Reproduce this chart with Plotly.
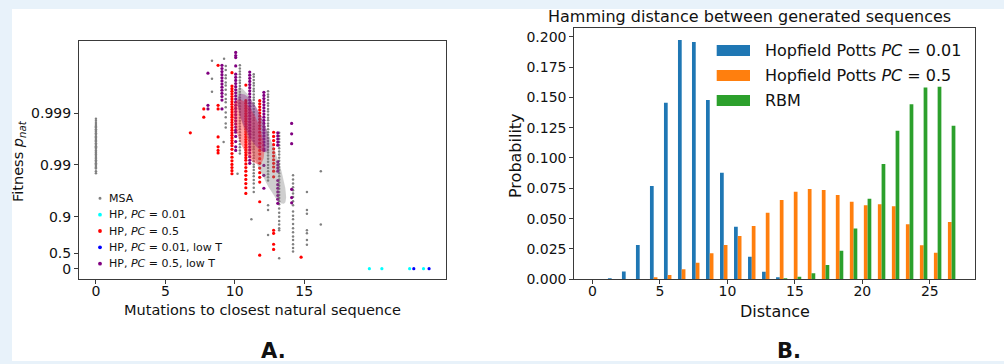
import numpy as np
import plotly.graph_objects as go

W, H = 1004, 364
FONT = "DejaVu Sans"

# ---------------------------------------------------------------------------
# Panel A: fitness vs. mutations to the closest natural sequence.
# Fitness is plotted on a "nines" scale, -log10(1 - p_nat):
# 0 -> 0, 0.5 -> 0.301, 0.9 -> 1, 0.99 -> 2, 0.999 -> 3.
# Each series is stored column by column: one x value, a list of y values.
# ---------------------------------------------------------------------------
msa_x = [0.0]
msa_y = [[2.89, 2.85, 2.81, 2.77, 2.74, 2.72, 2.69, 2.66, 2.64, 2.61, 2.58, 2.55,
          2.53, 2.50, 2.47, 2.45, 2.42, 2.39, 2.36, 2.34, 2.31, 2.28, 2.25, 2.23,
          2.20, 2.17, 2.14, 2.12, 2.09, 2.06, 2.03, 2.01, 1.98, 1.95, 1.93, 1.88, 1.84]]

grey_x = [8.36, 9.23, 9.35, 9.2, 10.37, 10.2, 11.37, 11.2, 12.4, 13.2, 14.2, 15.2, 16.2]
grey_y = [
    [4.01, 3.66, 3.41],
    [4.05],
    [3.91, 3.83, 3.73, 3.67, 3.59, 3.53, 3.45, 3.36, 3.27, 3.21, 3.11, 3.01, 2.92, 2.80, 2.72],
    [2.44],
    [3.92, 3.86, 3.80, 3.75, 3.69, 3.63, 3.58, 3.52, 3.47, 3.41, 3.36, 3.30, 3.25, 3.19,
     3.13, 3.08, 3.02, 2.97, 2.91, 2.85, 2.80, 2.74, 2.69, 2.63, 2.57, 2.52, 2.46, 2.40,
     2.34, 2.28, 2.22],
    [1.83],
    [3.75, 3.70, 3.64, 3.58, 3.53, 3.47, 3.42, 3.36, 3.30, 3.25, 3.19, 3.14, 3.08, 3.02,
     2.97, 2.91, 2.86, 2.80, 2.74, 2.69, 2.63, 2.58, 2.52, 2.46, 2.41, 2.35, 2.30, 2.24,
     2.18, 2.13, 2.07, 2.01, 1.96, 1.90, 1.84, 1.78, 1.71, 1.64, 1.56, 1.48],
    [0.95],
    [3.42, 3.36, 3.31, 3.25, 3.19, 3.14, 3.08, 3.03, 2.97, 2.91, 2.86, 2.80, 2.75, 2.69,
     2.63, 2.58, 2.52, 2.46, 2.41, 2.35, 2.29, 2.24, 2.18, 2.12, 2.06, 2.00, 1.94, 1.88,
     1.82, 1.76, 1.70, 1.22, 1.13, 0.65],
    [2.62, 2.56, 2.50, 2.44, 2.38, 2.32, 2.26, 2.20, 2.14, 2.08, 2.02, 1.96, 1.90, 1.84,
     1.78, 1.72, 1.66, 1.60, 1.54, 1.48, 1.42, 1.36, 1.30, 1.24, 1.16, 1.08, 1.00, 0.92,
     0.85, 0.78, 0.74, 0.20],
    [1.80, 1.72, 1.64, 1.57, 1.51, 1.45, 1.38, 1.30, 1.22, 1.10, 1.02, 0.95, 0.86, 0.78,
     0.70, 0.62, 0.55, 0.47, 0.40, 0.33],
    [1.48, 1.13, 1.06, 0.74, 0.68, 0.55, 0.46],
    [1.88, 0.85],
]

hp001_x = [19.7, 20.6, 22.6, 23.6]
hp001_y = [[0.0], [0.0], [0.0], [0.0]]

hp05_x = [6.8, 7.77, 8.8, 9.8, 10.8, 11.8, 12.8, 14.78]
hp05_y = [
    [2.62],
    [3.08, 2.92],
    [3.92, 3.15, 3.08, 2.54, 2.35, 2.28, 2.23],
    [3.78, 3.52, 3.47, 3.42, 3.37, 3.32, 3.27, 3.22, 3.17, 3.12, 3.07, 3.02, 2.97, 2.92,
     2.87, 2.82, 2.77, 2.72, 2.67, 2.62, 2.57, 2.52, 2.47, 2.42, 2.37, 2.30, 2.22, 2.15,
     2.08, 2.01, 1.95, 1.89, 1.83],
    [3.54, 3.24, 3.19, 3.14, 3.09, 3.04, 2.99, 2.94, 2.89, 2.84, 2.79, 2.74, 2.69, 2.64,
     2.59, 2.54, 2.49, 2.44, 2.39, 2.34, 2.29, 2.24, 2.19, 2.14, 2.09, 2.02, 1.95, 1.88,
     1.80, 1.72, 1.64, 1.56, 1.45],
    [3.24, 3.18, 3.12, 3.06, 3.00, 2.94, 2.88, 2.82, 2.76, 2.70, 2.63, 2.56, 2.49, 2.42,
     2.35, 2.28, 2.21, 2.12, 2.03, 1.94, 1.85, 1.76, 1.67, 1.29, 0.26],
    [2.63, 2.55, 2.47, 2.39, 2.31, 2.24, 2.17, 2.10, 2.03, 1.96, 1.88, 1.77, 0.74, 0.68,
     0.47, 0.37],
    [0.22],
]

hp001_lowT_x = [22.9, 24.0]
hp001_lowT_y = [[0.0], [0.0]]

hp05_lowT_x = [8.07, 9.08, 10.07, 11.08, 12.1, 13.1, 14.1]
hp05_lowT_y = [
    [3.77, 3.15, 3.08],
    [3.92, 3.86, 3.80, 3.74, 3.68, 3.62, 3.56, 3.50, 3.44, 3.38, 3.32, 3.25, 3.08],
    [4.17, 4.11, 4.07, 3.91, 3.75, 3.69, 3.63, 3.57, 3.51, 3.45, 3.39, 3.33, 3.27, 3.21,
     3.15, 3.09, 3.03, 2.97, 2.91, 2.85, 2.79, 2.73, 2.67, 2.63, 2.55, 2.45, 2.35, 2.28],
    [3.79, 3.73, 3.67, 3.61, 3.55, 3.49, 3.43, 3.37, 3.31, 3.25, 3.19, 3.13, 3.07, 3.01,
     2.95, 2.89, 2.83, 2.77, 2.71, 2.65, 2.59, 2.53, 2.47, 2.41, 2.35, 2.29, 2.23, 2.16,
     2.09, 2.03],
    [3.40, 3.34, 3.28, 3.22, 3.16, 3.10, 3.04, 2.98, 2.92, 2.86, 2.80, 2.74, 2.68, 2.62,
     2.56, 2.50, 2.44, 2.38, 2.31, 2.28, 1.99, 1.80, 1.55],
    [2.62, 2.56, 2.50, 2.44, 2.38, 2.06, 2.00, 1.94, 1.88, 1.70, 1.62, 1.55, 1.48, 1.41,
     1.34, 1.26],
    [2.80, 2.60, 2.41, 1.53, 1.37, 1.27],
]

# Summary ellipses (centre, major half-axis vector, minor half-axis vector),
# in data units: grey samples, HP PC=0.5, HP PC=0.5 low T.
ell_cx = [11.92, 11.01, 11.34]
ell_cy = [2.37, 2.64, 2.81]
ell_major_dx = [1.62, 0.79, 0.94]
ell_major_dy = [-1.12, -0.62, -0.56]
ell_minor_dx = [0.74, 0.80, 0.66]
ell_minor_dy = [0.076, 0.075, 0.079]
ell_colors = ["rgba(128,128,128,0.38)", "rgba(255,40,40,0.42)", "rgba(128,0,128,0.33)"]

fitness_tickvals = [0.0, float(np.log10(2.0)), 1.0, 2.0, 3.0]
fitness_ticktext = ["0", "0.5", "0.9", "0.99", "0.999"]
mutation_ticks = [0, 5, 10, 15]

legend_a_labels = ["MSA", "HP, <i>PC</i> = 0.01", "HP, <i>PC</i> = 0.5",
                   "HP, <i>PC</i> = 0.01, low T", "HP, <i>PC</i> = 0.5, low T"]

# ---------------------------------------------------------------------------
# Panel B: Hamming distance histogram (26 bins over 0..27)
# ---------------------------------------------------------------------------
n_bins = 26
dist_max = 27.0
hopfield_001 = [0.0, 0.0008, 0.0065, 0.0283, 0.0769, 0.1456, 0.1973, 0.1956, 0.1478,
                0.0879, 0.0434, 0.0186, 0.0063, 0.0013, 0.0, 0.0, 0.0, 0.0, 0.0, 0.0,
                0.0, 0.0, 0.0, 0.0, 0.0, 0.0]
hopfield_05 = [0.0, 0.0, 0.0, 0.0, 0.0013, 0.0035, 0.0082, 0.0137, 0.0214, 0.0283,
               0.0357, 0.0439, 0.0549, 0.0654, 0.0722, 0.0744, 0.0736, 0.0695, 0.0640,
               0.0610, 0.0618, 0.0602, 0.0453, 0.0280, 0.0219, 0.0472]
rbm = [0.0, 0.0, 0.0, 0.0, 0.0, 0.0, 0.0, 0.0, 0.0, 0.0, 0.0, 0.0, 0.0, 0.0008,
       0.0021, 0.0049, 0.0118, 0.0236, 0.0418, 0.0665, 0.0951, 0.1225, 0.1443, 0.1580,
       0.1588, 0.1266]
hist_names = ["Hopfield Potts <i>PC</i> = 0.01", "Hopfield Potts <i>PC</i> = 0.5", "RBM"]
hist_colors = ["#1f77b4", "#ff7f0e", "#2ca02c"]
prob_ticks = [0.0, 0.025, 0.05, 0.075, 0.1, 0.125, 0.15, 0.175, 0.2]
dist_ticks = [0, 5, 10, 15, 20, 25]


def flatten(cols_x, cols_y):
    xs, ys = [], []
    for x, col in zip(cols_x, cols_y):
        xs += [x] * len(col)
        ys += list(col)
    return xs, ys


def px(x):
    return x / W


def py(y):
    return 1 - y / H


fig = go.Figure()

series_a = [
    ("msa", msa_x, msa_y, "#808080", 2.5),
    ("grey", grey_x, grey_y, "#808080", 2.5),
    ("hp001", hp001_x, hp001_y, "#00ffff", 3.2),
    ("hp05", hp05_x, hp05_y, "#ff0000", 3.2),
    ("hp001_lowT", hp001_lowT_x, hp001_lowT_y, "#0000ff", 3.2),
    ("hp05_lowT", hp05_lowT_x, hp05_lowT_y, "#800080", 3.2),
]
for name, cx, cy, col, size in series_a:
    xs, ys = flatten(cx, cy)
    fig.add_trace(go.Scatter(x=xs, y=ys, mode="markers", name=name,
                             marker=dict(color=col, size=size, line=dict(width=0)),
                             xaxis="x", yaxis="y", showlegend=False, hoverinfo="skip"))

t = np.linspace(0, 2 * np.pi, 160)
for cx, cy, mx, my, nx, ny, col in zip(ell_cx, ell_cy, ell_major_dx, ell_major_dy,
                                       ell_minor_dx, ell_minor_dy, ell_colors):
    ex = cx + mx * np.cos(t) + nx * np.sin(t)
    ey = cy + my * np.cos(t) + ny * np.sin(t)
    fig.add_trace(go.Scatter(x=ex, y=ey, mode="lines", fill="toself", fillcolor=col,
                             line=dict(width=0), xaxis="x", yaxis="y",
                             showlegend=False, hoverinfo="skip"))

bin_w = dist_max / n_bins
centers = [(i + 0.5) * bin_w for i in range(n_bins)]
for vals, name, col in zip([hopfield_001, hopfield_05, rbm], hist_names, hist_colors):
    fig.add_trace(go.Bar(x=centers, y=vals, name=name, marker=dict(color=col, line=dict(width=0)),
                         xaxis="x2", yaxis="y2", showlegend=False))

axis_common = dict(showline=True, mirror=True, linecolor="#3a3a3a", linewidth=1,
                   showgrid=False, zeroline=False, ticks="outside", ticklen=4,
                   tickwidth=1, tickcolor="#3a3a3a", automargin=False,
                   tickfont=dict(family=FONT, size=14, color="#111"))

fig.update_layout(
    width=W, height=H,
    margin=dict(l=0, r=0, t=0, b=0, pad=0, autoexpand=False),
    paper_bgcolor="#e8f2fa",
    plot_bgcolor="white",
    showlegend=False,
    font=dict(family=FONT, color="#111"),
    barmode="group", bargap=0.2, bargroupgap=0.0,
    xaxis=dict(domain=[px(79), px(446)], range=[-1.22, 25.22], tickvals=mutation_ticks,
               anchor="y", ticklabelstandoff=-5, **axis_common),
    yaxis=dict(domain=[py(279), py(41)], range=[-0.2, 4.39], tickvals=fitness_tickvals,
               ticktext=fitness_ticktext, anchor="x", **axis_common),
    xaxis2=dict(domain=[px(574.3), px(975)], range=[-1.35, 28.35], tickvals=dist_ticks,
                anchor="y2", ticklabelstandoff=-5, **axis_common),
    yaxis2=dict(domain=[py(279.3), py(28.3)], range=[0, 0.2069], tickvals=prob_ticks,
                ticktext=["%.3f" % v for v in prob_ticks], anchor="x2", **axis_common),
)

shapes = [dict(type="rect", xref="paper", yref="paper", x0=px(12), x1=1.0,
               y0=py(361), y1=py(9), fillcolor="white", line=dict(width=0), layer="below")]
annotations = []


def text(x, y, s, size, xanchor="center", yanchor="middle", angle=0):
    annotations.append(dict(x=px(x), y=py(y), xref="paper", yref="paper", text=s,
                            showarrow=False, xanchor=xanchor, yanchor=yanchor,
                            textangle=angle,
                            font=dict(family=FONT, size=size, color="#111")))


# Panel A legend (lower left, inside the axes)
leg_a_colors = ["#808080", "#00ffff", "#ff0000", "#0000ff", "#800080"]
leg_a_rad = [1.5, 1.9, 1.9, 1.9, 1.9]
for i, (lab, col, r) in enumerate(zip(legend_a_labels, leg_a_colors, leg_a_rad)):
    yy = 198.3 + i * 16.35
    shapes.append(dict(type="circle", xref="paper", yref="paper", xsizemode="pixel",
                       ysizemode="pixel", xanchor=px(100), yanchor=py(yy),
                       x0=-r, x1=r, y0=-r, y1=r, fillcolor=col, line=dict(width=0)))
    text(107, yy, lab, 11, xanchor="left")

# Panel B legend (upper right, inside the axes)
for i, (lab, col) in enumerate(zip(hist_names, hist_colors)):
    yy = 50.5 + i * 25
    shapes.append(dict(type="rect", xref="paper", yref="paper", x0=px(716.7), x1=px(750),
                       y0=py(yy + 5.5), y1=py(yy - 5.5), fillcolor=col, line=dict(width=0)))
    text(763, yy, lab, 16, xanchor="left")

# Axis titles and panel labels
text(262.5, 310, "Mutations to closest natural sequence", 14.5)
text(19, 161, "Fitness <i>p</i><sub><i>nat</i></sub>", 14.5, angle=-90)
text(749, 16.5, "Hamming distance between generated sequences", 16)
text(775, 311.5, "Distance", 16)
text(515, 156, "Probability", 16, angle=-90)
text(273, 351, "<b>A.</b>", 21)
text(789, 351, "<b>B.</b>", 21)

fig.update_layout(shapes=shapes, annotations=annotations)
fig.write_html("out.html")
